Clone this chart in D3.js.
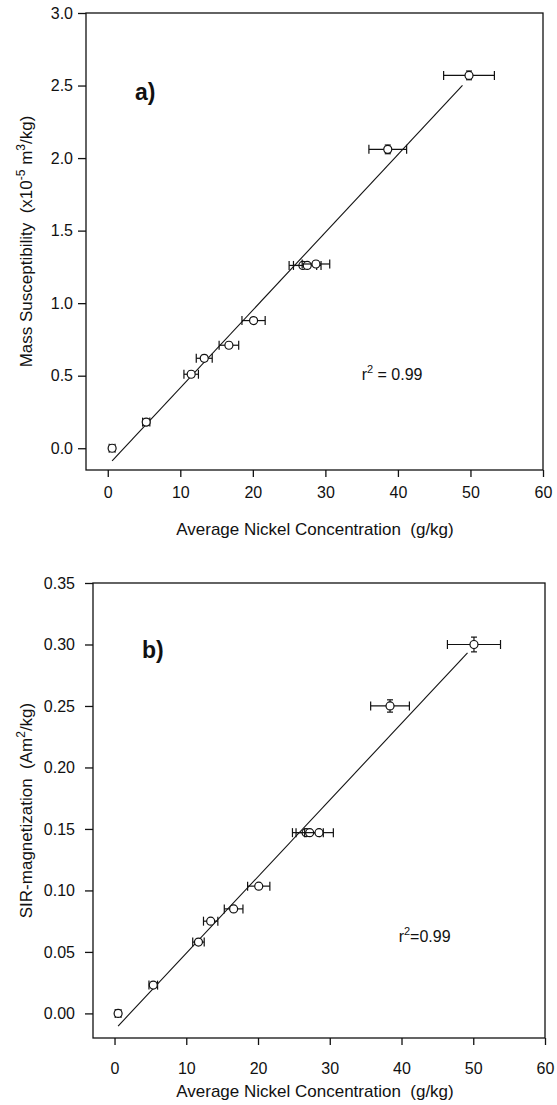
<!DOCTYPE html>
<html>
<head>
<meta charset="utf-8">
<script src="https://cdn.jsdelivr.net/npm/d3@7"></script>
<style>
  body { margin: 0; background: #fff; }
  svg { display: block; }
  svg text { font-family: "Liberation Sans", Arial, sans-serif; white-space: pre; }
</style>
</head>
<body>
<div id="chart"></div>
<script>
// ---- data ----
const xTicks = [0, 10, 20, 30, 40, 50, 60];

// panel a) mass susceptibility
const niA = [0.6, 5.3, 11.5, 13.3, 16.7, 20.1, 26.9, 27.5, 28.7, 38.6, 49.8];
const niErrA = [0.4, 0.5, 1.0, 1.1, 1.35, 1.6, 1.9, 1.9, 1.9, 2.6, 3.5];
const suscA = [0.0, 0.18, 0.51, 0.62, 0.71, 0.88, 1.26, 1.26, 1.27, 2.06, 2.57];
const suscErrA = [0.02, 0.02, 0.02, 0.02, 0.02, 0.02, 0.02, 0.02, 0.02, 0.03, 0.03];
const yTicksA = [0, 0.5, 1.0, 1.5, 2.0, 2.5, 3.0];
const fitA = [0.0536, -0.12];      // slope, intercept
const fitRangeA = [0.6, 48.9];

// panel b) SIR magnetization
const niB = [0.5, 5.4, 11.7, 13.4, 16.6, 20.1, 26.7, 27.2, 28.5, 38.4, 50.1];
const niErrB = [0.4, 0.6, 0.8, 1.0, 1.3, 1.55, 1.9, 1.9, 2.0, 2.7, 3.7];
const sirB = [0.0, 0.023, 0.058, 0.075, 0.085, 0.1035, 0.147, 0.147, 0.147, 0.25, 0.30];
const sirErrB = [0.002, 0.002, 0.002, 0.002, 0.002, 0.002, 0.002, 0.002, 0.002, 0.005, 0.006];
const yTicksB = [0, 0.05, 0.10, 0.15, 0.20, 0.25, 0.30, 0.35];
const fitB = [0.00623, -0.0134];
const fitRangeB = [0.5, 49.2];

const svg = d3.select('#chart').append('svg')
  .attr('width', 557)
  .attr('height', 1105);

function drawPanel(p) {
  const x = d3.scaleLinear().domain([-3, 60]).range([p.left, p.right]);
  const y = d3.scaleLinear().domain(p.yDomain).range([p.bottom, p.top]);
  const g = svg.append('g');

  // frame
  g.append('rect')
    .attr('x', p.left).attr('y', p.top)
    .attr('width', p.right - p.left).attr('height', p.bottom - p.top)
    .attr('fill', 'none').attr('stroke', '#111').attr('stroke-width', 1.3);

  const xAxis = d3.axisBottom(x).tickValues(xTicks).tickSize(7).tickPadding(p.xPad).tickFormat(d3.format('d'));
  const yAxis = d3.axisLeft(y).tickValues(p.yTicks).tickSize(8).tickPadding(p.yPad).tickFormat(d3.format(p.fmt));

  const gx = g.append('g').attr('transform', `translate(0,${p.bottom})`).call(xAxis);
  const gy = g.append('g').attr('transform', `translate(${p.left},0)`).call(yAxis);
  [gx, gy].forEach(a => {
    a.select('.domain').remove();
    a.selectAll('line').attr('stroke', '#111').attr('stroke-width', 1.3);
    a.selectAll('text').attr('fill', '#111').style('font-size', '16px');
  });

  // regression line
  g.append('line')
    .attr('x1', x(p.fitRange[0])).attr('y1', y(p.fit[0] * p.fitRange[0] + p.fit[1]))
    .attr('x2', x(p.fitRange[1])).attr('y2', y(p.fit[0] * p.fitRange[1] + p.fit[1]))
    .attr('stroke', '#111').attr('stroke-width', 1.1);

  const pts = p.xs.map((v, i) => ({ x: v, xe: p.xe[i], y: p.ys[i], ye: p.ye[i] }));
  const pg = g.selectAll('.pt').data(pts).join('g').attr('class', 'pt')
    .attr('stroke', '#111').attr('stroke-width', 1.2).attr('fill', 'none');

  // horizontal error bars
  pg.append('line')
    .attr('x1', d => x(d.x - d.xe)).attr('x2', d => x(d.x + d.xe))
    .attr('y1', d => y(d.y)).attr('y2', d => y(d.y));
  pg.append('line')
    .attr('x1', d => x(d.x - d.xe)).attr('x2', d => x(d.x - d.xe))
    .attr('y1', d => y(d.y) - 4.5).attr('y2', d => y(d.y) + 4.5);
  pg.append('line')
    .attr('x1', d => x(d.x + d.xe)).attr('x2', d => x(d.x + d.xe))
    .attr('y1', d => y(d.y) - 4.5).attr('y2', d => y(d.y) + 4.5);
  // vertical error bars
  pg.append('line')
    .attr('x1', d => x(d.x)).attr('x2', d => x(d.x))
    .attr('y1', d => y(d.y - d.ye)).attr('y2', d => y(d.y + d.ye));
  pg.append('line')
    .attr('x1', d => x(d.x) - 3).attr('x2', d => x(d.x) + 3)
    .attr('y1', d => y(d.y + d.ye)).attr('y2', d => y(d.y + d.ye));
  pg.append('line')
    .attr('x1', d => x(d.x) - 3).attr('x2', d => x(d.x) + 3)
    .attr('y1', d => y(d.y - d.ye)).attr('y2', d => y(d.y - d.ye));
  pg.append('circle')
    .attr('cx', d => x(d.x)).attr('cy', d => y(d.y)).attr('r', 4)
    .attr('fill', '#fff');

  // panel letter
  g.append('text').attr('x', p.left + 49).attr('y', p.letterY)
    .style('font-size', '23px').style('font-weight', 'bold').attr('fill', '#111')
    .text(p.letter);

  // r^2
  const rt = g.append('text').attr('x', x(p.rX)).attr('y', y(p.rY))
    .style('font-size', '16px').attr('fill', '#111');
  rt.append('tspan').text('r');
  rt.append('tspan').attr('dy', -7).style('font-size', '11px').text('2');
  rt.append('tspan').attr('dy', 7).text(p.rText);

  // x title
  g.append('text').attr('x', 315).attr('y', p.xTitleY)
    .attr('text-anchor', 'middle').style('font-size', '17px').attr('fill', '#111')
    .text('Average Nickel Concentration  (g/kg)');

  // y title
  const yt = g.append('text')
    .attr('transform', `translate(32,${(p.top + p.bottom) / 2}) rotate(-90)`)
    .attr('text-anchor', 'middle').style('font-size', '17px').attr('fill', '#111');
  p.yTitle.forEach(s => {
    const t = yt.append('tspan').text(s.t);
    if (s.sup) t.attr('dy', -7).style('font-size', '12px');
    if (s.down) t.attr('dy', 7);
  });
}

drawPanel({
  left: 86, right: 543, top: 13, bottom: 470,
  yDomain: [-0.15, 3.0], yTicks: yTicksA, fmt: '.1f', xPad: 10, yPad: 5,
  xs: niA, xe: niErrA, ys: suscA, ye: suscErrA,
  fit: fitA, fitRange: fitRangeA,
  letter: 'a)', letterY: 100,
  rX: 35, rY: 0.47, rText: ' = 0.99',
  xTitleY: 535,
  yTitle: [
    { t: 'Mass Susceptibility  (x10' },
    { t: '-5', sup: true },
    { t: ' m', down: true },
    { t: '3', sup: true },
    { t: '/kg)', down: true }
  ]
});

drawPanel({
  left: 93, right: 545, top: 583, bottom: 1038,
  yDomain: [-0.02, 0.35], yTicks: yTicksB, fmt: '.2f', xPad: 18, yPad: 10,
  xs: niB, xe: niErrB, ys: sirB, ye: sirErrB,
  fit: fitB, fitRange: fitRangeB,
  letter: 'b)', letterY: 658,
  rX: 39.6, rY: 0.058, rText: '=0.99',
  xTitleY: 1097,
  yTitle: [
    { t: 'SIR-magnetization  (Am' },
    { t: '2', sup: true },
    { t: '/kg)', down: true }
  ]
});
</script>
</body>
</html>
